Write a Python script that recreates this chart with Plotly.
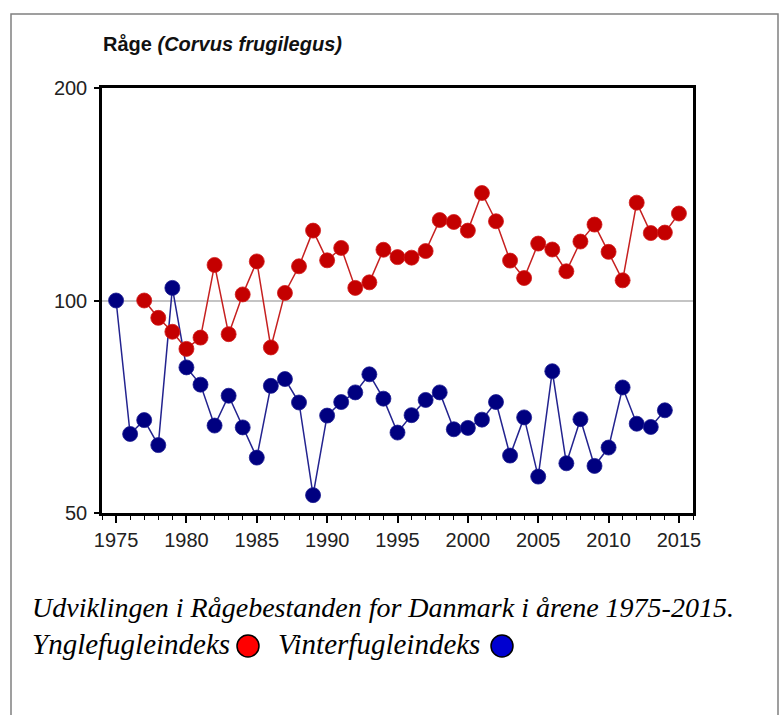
import plotly.graph_objects as go

# ---- data ----
breed_years = list(range(1977, 2016))
breed_index = [100, 94.5, 90.3, 85.4, 88.6, 112.3, 89.6, 102, 113.6, 85.8,
               102.5, 111.8, 125.6, 114, 118.7, 104.2, 106.1, 118, 115.2, 115,
               117.5, 130, 129.2, 125.6, 142, 129.5, 113.9, 107.6, 120.4, 118.1,
               110, 121.2, 128.1, 117.2, 106.8, 137.6, 124.6, 124.8, 132.8]
winter_years = list(range(1975, 2015))
winter_index = [100, 64.7, 67.7, 62.4, 104.2, 80.4, 76, 66.5, 73.3, 66.1,
                59.9, 75.7, 77.4, 71.7, 53, 68.7, 71.8, 74.1, 78.6, 72.6,
                65, 68.8, 72.3, 74.1, 65.7, 66, 67.8, 71.8, 60.3, 68.3,
                56.3, 79.4, 58.8, 67.9, 58.3, 61.9, 75.3, 66.9, 66.2, 69.9]
y_ticks = [50, 100, 200]
title_main = "Råge"
title_species = "(Corvus frugilegus)"
caption_line1 = "Udviklingen i Rågebestanden for Danmark i årene 1975-2015."
label_breed = "Ynglefugleindeks"
label_winter = "Vinterfugleindeks"

# ---- layout geometry (pixels) ----
W, H = 784, 715
L, R, T, B = 102, 693, 88, 513
pw, ph = R - L, B - T

def px(x):
    return (x - L) / pw

def py(y):
    return (B - y) / ph

SANS = "Liberation Sans, Arial"
SERIF = "Liberation Serif, Times New Roman"

fig = go.Figure()
fig.add_trace(go.Scatter(
    x=winter_years, y=winter_index, mode="lines+markers",
    line=dict(color="#23238f", width=1.5),
    marker=dict(size=15, color="#000080", line=dict(width=0.8, color="#1c1c90")),
    showlegend=False, cliponaxis=False))
fig.add_trace(go.Scatter(
    x=breed_years, y=breed_index, mode="lines+markers",
    line=dict(color="#c62020", width=1.5),
    marker=dict(size=15, color="#c40000", line=dict(width=0.8, color="#d01a1a")),
    showlegend=False, cliponaxis=False))

fig.update_xaxes(
    range=[1974, 2016], tick0=1975, dtick=5, ticks="outside", ticklen=7,
    tickwidth=2, tickcolor="black", showline=True, linecolor="black",
    linewidth=2.5, mirror=True, showgrid=False, zeroline=False,
    tickfont=dict(family=SANS, size=20, color="#222"),
    minor=dict(dtick=1, tick0=1975, ticks="outside", ticklen=4,
               tickwidth=1.2, tickcolor="black", showgrid=False))
fig.update_yaxes(
    type="log", range=[1.69897, 2.30103], tickvals=y_ticks,
    ticktext=[str(v) for v in y_ticks], ticks="outside", ticklen=5,
    tickwidth=1.5, tickcolor="black", showline=True, linecolor="black",
    linewidth=2.5, mirror=True, showgrid=True, gridcolor="#c4c4c4",
    gridwidth=2, zeroline=False, ticklabelstandoff=3,
    tickfont=dict(family=SANS, size=20, color="#222"))

ann = [
    dict(x=px(101), y=py(44), xref="paper", yref="paper", xanchor="left",
         yanchor="middle", showarrow=False,
         text=f"<b>{title_main} <i>{title_species}</i></b>",
         font=dict(family=SANS, size=20, color="#111")),
    dict(x=px(30), y=py(607), xref="paper", yref="paper", xanchor="left",
         yanchor="middle", showarrow=False, text=f"<i>{caption_line1}</i>",
         font=dict(family=SERIF, size=28, color="#000")),
    dict(x=px(30), y=py(644), xref="paper", yref="paper", xanchor="left",
         yanchor="middle", showarrow=False, text=f"<i>{label_breed}</i>",
         font=dict(family=SERIF, size=29, color="#000")),
    dict(x=px(276), y=py(644), xref="paper", yref="paper", xanchor="left",
         yanchor="middle", showarrow=False, text=f"<i>{label_winter}</i>",
         font=dict(family=SERIF, size=29, color="#000")),
]

shapes = [
    dict(type="rect", xref="paper", yref="paper", x0=px(11), x1=px(778),
         y0=py(740), y1=py(14), line=dict(color="#808080", width=1.5),
         fillcolor="rgba(0,0,0,0)", layer="below"),
    dict(type="circle", xref="paper", yref="paper", x0=px(237), x1=px(259),
         y0=py(657), y1=py(635), fillcolor="#ff0000",
         line=dict(color="black", width=1.5)),
    dict(type="circle", xref="paper", yref="paper", x0=px(491), x1=px(513),
         y0=py(657), y1=py(635), fillcolor="#0000d0",
         line=dict(color="black", width=1.5)),
]

fig.update_layout(
    width=W, height=H, margin=dict(l=L, r=W - R, t=T, b=H - B, pad=0),
    paper_bgcolor="white", plot_bgcolor="white",
    annotations=ann, shapes=shapes, showlegend=False)

fig.write_html("out.html", config={"displayModeBar": False},
               post_script="document.body.style.margin='0';document.body.style.overflow='hidden';")
